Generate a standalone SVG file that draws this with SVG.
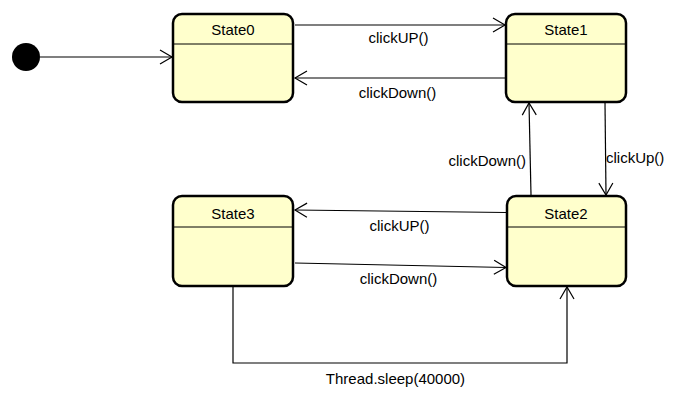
<svg xmlns="http://www.w3.org/2000/svg" width="682" height="400" viewBox="0 0 682 400">
<style>
.box{fill:#FFFFCC;stroke:#000;stroke-width:2.5}
.div{stroke:#000;stroke-width:1}
.t{font-family:"Liberation Sans",Arial,sans-serif;font-size:15px;fill:#000}
.c{text-anchor:middle}
.e{fill:none;stroke:#000;stroke-width:1.2}
</style>
<defs>
<marker id="a" markerUnits="userSpaceOnUse" markerWidth="18" markerHeight="18" refX="13" refY="8" orient="auto">
<path d="M1,1 L13,8 L1,15" fill="none" stroke="#000" stroke-width="1.2"/>
</marker>
</defs>
<rect width="682" height="400" fill="#fff"/>
<g id="initial"><circle cx="26" cy="57" r="14" fill="#000"/></g>
<g id="State0"><rect class="box" x="173" y="14" width="120" height="88" rx="9"/><line class="div" x1="174" y1="44" x2="292" y2="44"/><text class="t c" x="233" y="35">State0</text></g>
<g id="State1"><rect class="box" x="506" y="14" width="120" height="88" rx="9"/><line class="div" x1="507" y1="44" x2="625" y2="44"/><text class="t c" x="566" y="35">State1</text></g>
<g id="State3"><rect class="box" x="173" y="196" width="120" height="90" rx="9"/><line class="div" x1="174" y1="227" x2="292" y2="227"/><text class="t c" x="233" y="219">State3</text></g>
<g id="State2"><rect class="box" x="507" y="196" width="119" height="90" rx="9"/><line class="div" x1="508" y1="227" x2="625" y2="227"/><text class="t c" x="566" y="219">State2</text></g>
<g id="connectors">
<line class="e" x1="40" y1="57" x2="172" y2="57" marker-end="url(#a)"/>
<line class="e" x1="295" y1="25" x2="505" y2="25" marker-end="url(#a)"/>
<line class="e" x1="505" y1="78" x2="295" y2="78" marker-end="url(#a)"/>
<line class="e" x1="531" y1="195" x2="529" y2="103" marker-end="url(#a)"/>
<line class="e" x1="605" y1="103" x2="606" y2="195" marker-end="url(#a)"/>
<line class="e" x1="506" y1="212.5" x2="295" y2="210" marker-end="url(#a)"/>
<line class="e" x1="295" y1="263" x2="506" y2="267.5" marker-end="url(#a)"/>
<polyline class="e" points="233,287 233,363 567,363 567,287" marker-end="url(#a)"/>
</g>
<g id="labels">
<text class="t c" x="398.5" y="43">clickUP()</text>
<text class="t c" x="397.5" y="98">clickDown()</text>
<text class="t" x="526" y="166" text-anchor="end">clickDown()</text>
<text class="t" x="606" y="163">clickUp()</text>
<text class="t c" x="399.5" y="231">clickUP()</text>
<text class="t c" x="398.5" y="284">clickDown()</text>
<text class="t c" x="395.5" y="384">Thread.sleep(40000)</text>
</g>
</svg>
